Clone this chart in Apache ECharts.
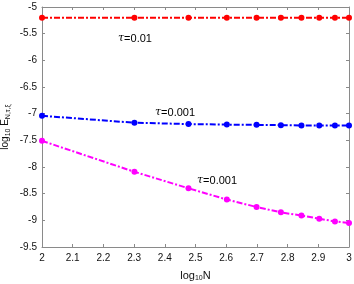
<!DOCTYPE html>
<html><head><meta charset="utf-8">
<script src="https://cdn.jsdelivr.net/npm/echarts@6/dist/echarts.min.js"></script>
<style>html,body{margin:0;padding:0;background:#fff}#c{width:354px;height:284px}</style>
</head><body><div id="c"></div>
<script>
const N = [100, 200, 300, 400, 500, 600, 700, 800, 900, 1000];
const redVals = [-5.2, -5.2, -5.2, -5.2, -5.2, -5.2, -5.2, -5.2, -5.2, -5.2];
const blueVals = [-7.04, -7.17, -7.195, -7.205, -7.21, -7.215, -7.22, -7.22, -7.22, -7.22];
const magentaVals = [-7.51, -8.09, -8.40, -8.61, -8.75, -8.85, -8.91, -8.97, -9.02, -9.05];
const labels = ['τ=0.01', 'τ=0.001', 'τ=0.001'];

const xs = N.map(n => Math.log10(n));
const mk = vals => xs.map((x, i) => [x, vals[i]]);
const chart = echarts.init(document.getElementById('c'));
const font = 'Liberation Sans, Arial, sans-serif';
const axisCommon = {
  axisLine: {show: true, lineStyle: {color: '#8a8a8a', width: 1}},
  axisTick: {show: true, inside: true, length: 3, lineStyle: {color: '#8a8a8a'}},
  splitLine: {show: false},
};
function ser(vals, color) {
  return {
    type: 'line', data: mk(vals), symbol: 'circle', symbolSize: 6,
    itemStyle: {color: color},
    lineStyle: {color: color, width: 2, type: [6, 2, 2, 2]},
    animation: false
  };
}
const tauRich = {t: {fontFamily: 'DejaVu Serif, serif', fontStyle: 'italic', fontSize: 11, color: '#111'}, n: {fontFamily: font, fontSize: 11, color: '#111'}};
function lbl(x, y, s) {
  return {type: 'text', left: x, top: y, style: {text: '{t|τ}{n|' + s.slice(1) + '}', rich: tauRich}};
}
chart.setOption({
  animation: false,
  grid: {left: 42, right: 5, top: 7, bottom: 37, containLabel: false, outerBoundsMode: 'none'},
  xAxis: [
    Object.assign({type: 'value', min: 2, max: 3, interval: 0.1, position: 'bottom',
      name: 'log{s|10}N', nameLocation: 'middle', nameGap: 22, nameMoveOverlap: false,
      nameTextStyle: {fontFamily: font, fontSize: 11, color: '#111', rich: {s: {fontSize: 7, verticalAlign: 'bottom', padding: [6, 0, 0, 0], fontFamily: font, color: '#111'}}},
      axisLabel: {fontFamily: font, fontSize: 10, color: '#111', margin: 6,
        formatter: v => (Math.round(v * 10) / 10).toString()}}, axisCommon),
    Object.assign({type: 'value', min: 2, max: 3, interval: 0.1, position: 'top',
      axisLabel: {show: false}}, axisCommon)
  ],
  yAxis: [
    Object.assign({type: 'value', min: -9.5, max: -5, interval: 0.5, position: 'left',
      name: 'log{s|10} E{s|N,τ,ξ}', nameLocation: 'middle', nameGap: 30, nameRotate: 90, nameMoveOverlap: false,
      nameTextStyle: {fontFamily: font, fontSize: 10, color: '#111', rich: {s: {fontSize: 7, padding: [6, 0, 0, 0], fontFamily: font, color: '#111'}}},
      axisLabel: {fontFamily: font, fontSize: 10, color: '#111', margin: 5,
        formatter: v => (Math.round(v * 10) / 10).toString()}}, axisCommon),
    Object.assign({type: 'value', min: -9.5, max: -5, interval: 0.5, position: 'right',
      axisLabel: {show: false}}, axisCommon)
  ],
  series: [ser(redVals, '#ff0000'), ser(blueVals, '#0000ff'), ser(magentaVals, '#ff00ff')],
  graphic: [lbl(118, 33, labels[0]), lbl(155, 107, labels[1]), lbl(197, 175, labels[2])]
});
</script></body></html>
